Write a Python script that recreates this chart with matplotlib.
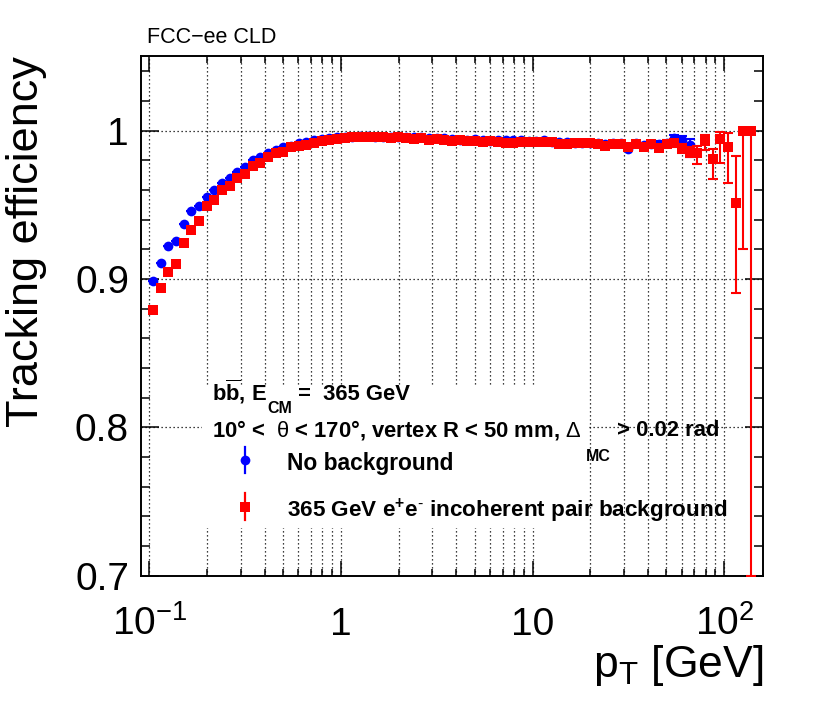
import numpy as np
import matplotlib
matplotlib.use("Agg")
import matplotlib.pyplot as plt
from matplotlib.ticker import FixedLocator, FixedFormatter, LogLocator, NullFormatter
from matplotlib.lines import Line2D
from matplotlib.patches import Rectangle

plt.rcParams['font.family'] = ['Liberation Sans', 'DejaVu Sans']
plt.rcParams['mathtext.fontset'] = 'custom'
plt.rcParams['mathtext.rm'] = 'Liberation Sans'
plt.rcParams['mathtext.it'] = 'Liberation Sans:italic'
plt.rcParams['mathtext.bf'] = 'Liberation Sans:bold'

# ---------------- data ----------------
pt_centers = [
    0.1047, 0.1148, 0.1259, 0.1380, 0.1514, 0.1660, 0.1820, 0.1995, 0.2188, 0.2399,
    0.2630, 0.2884, 0.3162, 0.3467, 0.3802, 0.4169, 0.4571, 0.5012, 0.5495, 0.6026,
    0.6607, 0.7244, 0.7943, 0.8710, 0.9550, 1.047, 1.148, 1.259, 1.380, 1.514,
    1.660, 1.820, 1.995, 2.188, 2.399, 2.630, 2.884, 3.162, 3.467, 3.802,
    4.169, 4.571, 5.012, 5.495, 6.026, 6.607, 7.244, 7.943, 8.710, 9.550,
    10.47, 11.48, 12.59, 13.80, 15.14, 16.60, 18.20, 19.95, 21.88, 23.99,
    26.30, 28.84, 31.62, 34.67, 38.02, 41.69, 45.71, 50.12, 54.95, 60.26,
    66.07, 72.44, 79.43, 87.10, 95.50, 104.7, 114.8, 125.9, 138.0,
]

eff_bkg = [
    0.879, 0.894, 0.905, 0.910, 0.924, 0.933, 0.939, 0.949, 0.953, 0.960,
    0.963, 0.968, 0.971, 0.976, 0.978, 0.982, 0.985, 0.986, 0.989, 0.990,
    0.9905, 0.992, 0.993, 0.994, 0.9945, 0.995, 0.9955, 0.9955, 0.996, 0.9955,
    0.9955, 0.995, 0.9955, 0.995, 0.9945, 0.995, 0.994, 0.9945, 0.994, 0.993,
    0.9935, 0.993, 0.993, 0.9925, 0.993, 0.9925, 0.992, 0.992, 0.9926, 0.9926,
    0.9926, 0.9926, 0.9922, 0.9908, 0.9908, 0.9915, 0.9915, 0.9915, 0.9912, 0.9895,
    0.991, 0.991, 0.9888, 0.991, 0.989, 0.991, 0.9885, 0.991, 0.9918, 0.988,
    0.986, 0.9847, 0.993, 0.9807, 0.9942, 0.9892, 0.9515, 1.0, 1.0,
]
err_lo_bkg = [0.0] * 66 + [0.002, 0.002, 0.003, 0.003, 0.004, 0.0074, 0.006,
                           0.0133, 0.016, 0.0242, 0.0607, 0.080, 0.300]
err_hi_bkg = [0.0] * 66 + [0.002, 0.002, 0.002, 0.003, 0.003, 0.005, 0.004,
                           0.007, 0.0047, 0.009, 0.0315, 0.0, 0.0]

eff_nobkg = [
    0.899, 0.911, 0.922, 0.926, 0.937, 0.946, 0.949, 0.9555, 0.960, 0.965,
    0.968, 0.9725, 0.9757, 0.980, 0.982, 0.985, 0.987, 0.989, 0.990, 0.992,
    0.9926, 0.9935, 0.9945, 0.995, 0.9955, 0.996, 0.996, 0.9962, 0.9965, 0.996,
    0.996, 0.9958, 0.996, 0.9955, 0.9955, 0.9955, 0.995, 0.995, 0.995, 0.9945,
    0.994, 0.994, 0.9945, 0.994, 0.993, 0.9935, 0.994, 0.9935, 0.9937, 0.993,
    0.993, 0.9935, 0.9925, 0.9925, 0.9925, 0.992, 0.9915, 0.992, 0.9915, 0.991,
    0.9915, 0.9915, 0.9875, 0.9918, 0.9905, 0.9912, 0.991, 0.9915, 0.9953, 0.9937,
    0.9905,
]
err_lo_nobkg = [0.0] * 66 + [0.002, 0.002, 0.002, 0.003, 0.0085]
err_hi_nobkg = [0.0] * 66 + [0.002, 0.002, 0.002, 0.003, 0.004]

x_major = [0.1, 1, 10, 100]
x_major_labels = [r"$\mathregular{10^{-1}}$", "1", "10", r"$\mathregular{10^{2}}$"]
y_major = [0.7, 0.8, 0.9, 1.0]
y_major_labels = ["0.7", "0.8", "0.9", "1"]
y_minor = [0.72, 0.74, 0.76, 0.78, 0.82, 0.84, 0.86, 0.88, 0.92, 0.94, 0.96, 0.98, 1.02, 1.04]

label_nobkg = "No background"
label_bkg = r"365 GeV e$^{\mathbf{+}}$e$^{\mathbf{\text{-}}}$ incoherent pair background"
header1_parts = [r"$\mathbf{b\overline{b}}$, E", "CM", " =  365 GeV"]
header2_parts = [r"10° <  $\mathrm{\theta}$ < 170°, vertex R < 50 mm, $\mathrm{\Delta}$", "MC", " > 0.02 rad"]

BLUE = "#0000ff"
RED = "#ff0000"

W, H = 830, 703
fig = plt.figure(figsize=(W / 100, H / 100), dpi=100)
ax = fig.add_axes([140.7 / W, 1 - 575.7 / H, 622.6 / W, 520 / H])

ax.set_xscale('log')
ax.set_xlim(0.0902, 160)
ax.set_ylim(0.7, 1.0506)

ax.set_axisbelow(True)
ax.xaxis.set_major_locator(FixedLocator(x_major))
ax.xaxis.set_major_formatter(FixedFormatter(x_major_labels))
ax.xaxis.set_minor_locator(LogLocator(base=10, subs=np.arange(2, 10), numticks=30))
ax.xaxis.set_minor_formatter(NullFormatter())
ax.yaxis.set_major_locator(FixedLocator(y_major))
ax.yaxis.set_major_formatter(FixedFormatter(y_major_labels))
ax.yaxis.set_minor_locator(FixedLocator(y_minor))

gkw = dict(color='black', linestyle=(0, (1, 2.2)), linewidth=0.9)
ax.grid(True, which='major', axis='both', **gkw)
ax.grid(True, which='minor', axis='x', **gkw)

# white legend box hiding grid
ax.add_patch(Rectangle((0.0985, 0.0917), 0.7184 - 0.0985, 0.3629 - 0.0917,
                       transform=ax.transAxes, facecolor='white', edgecolor='none', zorder=1))

# data
ax.errorbar(pt_centers[:len(eff_nobkg)], eff_nobkg, yerr=[err_lo_nobkg, err_hi_nobkg],
            fmt='none', ecolor=BLUE, elinewidth=1.5, capsize=3.6, capthick=1.5, zorder=3)
ax.plot(pt_centers[:len(eff_nobkg)], eff_nobkg, 'o', color=BLUE, ms=7.0, mew=0, zorder=4)
ax.errorbar(pt_centers, eff_bkg, yerr=[err_lo_bkg, err_hi_bkg],
            fmt='none', ecolor=RED, elinewidth=1.5, capsize=3.6, capthick=1.5, zorder=5)
ax.plot(pt_centers, eff_bkg, 's', color=RED, ms=7.0, mew=0, zorder=6)

# ticks
ax.tick_params(which='both', direction='in', top=True, right=True, width=1.1)
ax.tick_params(axis='x', which='major', length=10.8, labelsize=28, pad=42.7)
ax.tick_params(axis='x', which='minor', length=4.8)
ax.tick_params(axis='y', which='major', length=13, labelsize=28, pad=8.4)
ax.tick_params(axis='y', which='minor', length=6.5)
for lab in ax.get_xticklabels():
    lab.set_verticalalignment('baseline')
for s in ax.spines.values():
    s.set_linewidth(1.4)

# axis titles
fig.text(27 / W, 1 - 55.7 / H, "Tracking efficiency", rotation=90, ha='center', va='top', fontsize=32.5)
fig.text(763.3 / W, 1 - 677 / H, r"$\mathregular{p_{T}}$ [GeV]", ha='right', va='baseline', fontsize=32)
fig.text(147 / W, 1 - 43 / H, "FCC\u2212ee CLD", ha='left', va='baseline', fontsize=15.5)

renderer = fig.canvas.get_renderer()


def text_run(x_px, baselines_px, parts, sizes, gaps_px):
    x = x_px
    for txt, base, size, gap in zip(parts, baselines_px, sizes, gaps_px):
        x += gap
        t = fig.text(x / W, 1 - base / H, txt, ha='left', va='baseline',
                     fontsize=size, fontweight='bold')
        bb = t.get_window_extent(renderer=renderer)
        x = bb.x1


text_run(211.7, [400, 413, 400], header1_parts, [15.8, 11.5, 15.8], [0, 1, 0])
text_run(211.7, [436, 461, 436], header2_parts, [15.8, 11.5, 15.8], [0, 5, 0])
fig.text(286.7 / W, 1 - 470 / H, label_nobkg, ha='left', va='baseline', fontsize=16.4, fontweight='bold')
fig.text(286.7 / W, 1 - 516.7 / H, label_bkg, ha='left', va='baseline', fontsize=16.2, fontweight='bold')

mx = 245 / W
fig.add_artist(Line2D([mx, mx], [1 - 446.7 / H, 1 - 473.3 / H], color=BLUE, lw=1.6))
fig.add_artist(Line2D([mx], [1 - 460 / H], marker='o', color=BLUE, ms=7.0, mew=0))
fig.add_artist(Line2D([mx, mx], [1 - 493 / H, 1 - 520 / H], color=RED, lw=1.6))
fig.add_artist(Line2D([mx], [1 - 506.7 / H], marker='s', color=RED, ms=7.0, mew=0))

fig.savefig("out.png", dpi=100)
